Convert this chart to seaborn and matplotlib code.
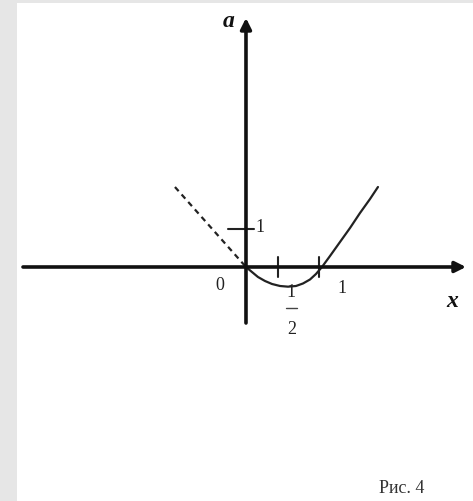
import numpy as np
import pandas as pd
import seaborn as sns
import matplotlib.pyplot as plt

# Curve (x in units of the "1" tick, a in units of the "1" tick on the a-axis)
curve_x = [0, 0.082, 0.164, 0.26, 0.356, 0.466, 0.575, 0.685, 0.781, 0.877,
           0.959, 1.041, 1.151, 1.288, 1.425, 1.562, 1.699, 1.808]
curve_a = [0, -0.132, -0.263, -0.368, -0.447, -0.5, -0.518, -0.5, -0.434, -0.329,
           -0.184, 0, 0.289, 0.658, 1.026, 1.421, 1.789, 2.105]

# dashed part for x < 0
dash_x = [-0.973, 0]
dash_a = [2.105, 0]

# tick marks on the axes
x_ticks = [0.438, 1.0]
a_ticks = [1.0]

sns.set_style("white")
plt.rcParams['font.family'] = ['Liberation Serif', 'DejaVu Serif']

fig = plt.figure(figsize=(4.73, 5.01), dpi=100)
fig.patch.set_facecolor('#e6e6e6')
ax = fig.add_axes([17 / 473, 0, 456 / 473, 498 / 501])
ax.set_facecolor('white')
ax.set_xlim(-3.137, 3.110)
ax.set_ylim(-6.158, 6.947)
# keep the white patch, hide everything else
for s in ax.spines.values():
    s.set_visible(False)
ax.set_xticks([])
ax.set_yticks([])

# axes with arrows
ax.annotate('', xy=(3.014, 0), xytext=(-3.055, 0),
            arrowprops=dict(arrowstyle='-|>', lw=2.6, color='#111111',
                            mutation_scale=16, shrinkA=0, shrinkB=0))
ax.annotate('', xy=(0, 6.553), xytext=(0, -1.474),
            arrowprops=dict(arrowstyle='-|>', lw=2.6, color='#111111',
                            mutation_scale=16, shrinkA=0, shrinkB=0))

# ticks
for t in x_ticks:
    ax.plot([t, t], [-0.263, 0.263], color='#222222', lw=1.5)
for t in a_ticks:
    ax.plot([-0.247, 0.11], [t, t], color='#222222', lw=1.5)

# curve and dashed line
df_curve = pd.DataFrame({'x': curve_x, 'a': curve_a})
sns.lineplot(data=df_curve, x='x', y='a', ax=ax, color='#222222', lw=1.6, sort=False)
df_dash = pd.DataFrame({'x': dash_x, 'a': dash_a})
sns.lineplot(data=df_dash, x='x', y='a', ax=ax, color='#222222', lw=1.6,
             linestyle=(0, (2.5, 2)), sort=False)
ax.set_xlabel('')
ax.set_ylabel('')

# labels
ax.text(-0.356, -0.474, '0', fontsize=13, ha='center', va='center', color='#222222')
ax.text(1.315, -0.553, '1', fontsize=13, ha='center', va='center', color='#222222')
ax.text(0.19, 1.05, '1', fontsize=13, ha='center', va='center', color='#222222')
ax.text(0.616, -0.684, '1', fontsize=13, ha='center', va='center', color='#222222')
ax.plot([0.548, 0.699], [-1.079, -1.079], color='#444444', lw=1.0)
ax.text(0.63, -1.658, '2', fontsize=13, ha='center', va='center', color='#222222')
ax.text(-0.233, 6.45, 'a', fontsize=17, ha='center', va='center',
        fontweight='bold', fontstyle='italic', color='#111111')
ax.text(2.822, -0.921, 'x', fontsize=17, ha='center', va='center',
        fontweight='bold', fontstyle='italic', color='#111111')
ax.text(2.137, -5.842, 'Рис. 4', fontsize=13, ha='center', va='center', color='#333333')

fig.savefig('out.png', dpi=100, facecolor=fig.get_facecolor())
